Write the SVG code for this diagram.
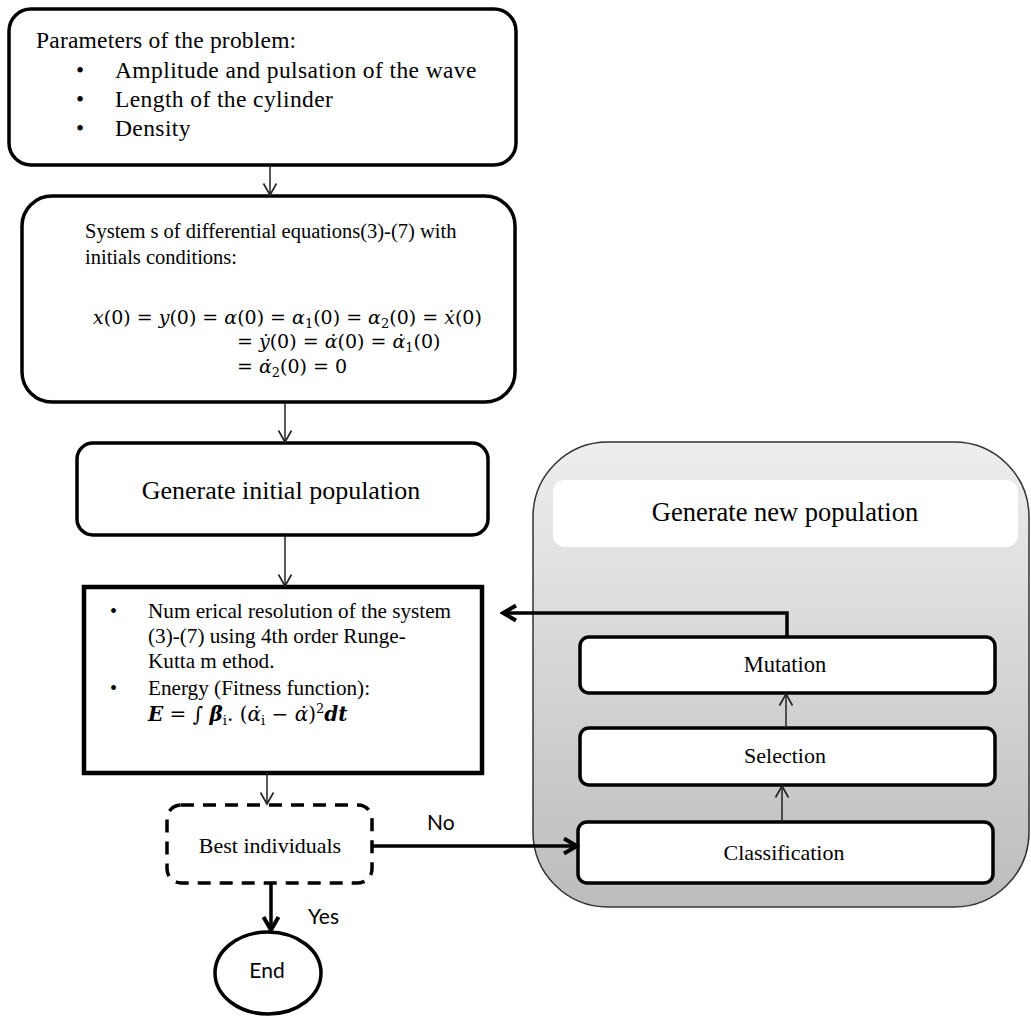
<svg xmlns="http://www.w3.org/2000/svg" width="1031" height="1019" viewBox="0 0 1031 1019">
<style>
text{font-family:"Liberation Serif","Times New Roman",serif;fill:#000}
.box{fill:#fff;stroke:#000;stroke-width:3.5}
.inner{fill:#fff;stroke:#000;stroke-width:3.5}
.thin{stroke:#222;stroke-width:1.5;fill:none}
.bold{stroke:#000;stroke-width:3.5;fill:none}
.c{text-anchor:middle}
.sans{font-family:Lato,"Liberation Sans",sans-serif}
.eq{font-family:"DejaVu Serif","Liberation Serif",serif}
.v{font-style:italic}
.bi{font-style:italic;font-weight:bold}
</style>
<defs>
<marker id="ah" viewBox="0 0 16 16" refX="14" refY="8" markerWidth="16" markerHeight="16" markerUnits="userSpaceOnUse" orient="auto">
<path d="M2.5,1.5 L14,8 L2.5,14.5" fill="none" stroke="#222" stroke-width="1.6"/>
</marker>
<marker id="ahb" viewBox="0 0 20 20" refX="17" refY="10" markerWidth="20" markerHeight="20" markerUnits="userSpaceOnUse" orient="auto">
<path d="M4,2.5 L17,10 L4,17.5" fill="none" stroke="#000" stroke-width="4" stroke-linejoin="miter"/>
</marker>
<linearGradient id="gg" x1="0" y1="0" x2="0" y2="1">
<stop offset="0" stop-color="#eeeeee"/>
<stop offset="1" stop-color="#bcbcbc"/>
</linearGradient>
</defs>

<g id="params">
<rect class="box" x="9" y="9" width="507" height="156" rx="22"/>
<text x="36" y="48" font-size="23.5" letter-spacing="0.2">Parameters of the problem:</text>
<text x="76" y="78" font-size="23">•</text>
<text x="115" y="78" font-size="23.5" letter-spacing="0.4">Amplitude and pulsation of the wave</text>
<text x="76" y="107" font-size="23">•</text>
<text x="115" y="107" font-size="23.5" letter-spacing="0.4">Length of the cylinder</text>
<text x="76" y="136" font-size="23">•</text>
<text x="115" y="136" font-size="23.5" letter-spacing="0.4">Density</text>
</g>

<g id="system">
<rect class="box" x="22" y="196" width="493" height="206" rx="30"/>
<text x="85" y="238" font-size="20.5">System s of differential equations(3)-(7) with</text>
<text x="85" y="264" font-size="20.5">initials conditions:</text>
<text class="eq" x="93" y="324" font-size="19" xml:space="preserve"><tspan class="v">x</tspan>(0) = <tspan class="v">y</tspan>(0) = <tspan class="v">α</tspan>(0) = <tspan class="v">α</tspan><tspan font-size="13" dy="4">1</tspan><tspan dy="-4">(0) = </tspan><tspan class="v">α</tspan><tspan font-size="13" dy="4">2</tspan><tspan dy="-4">(0) = </tspan><tspan class="v">ẋ</tspan>(0)</text>
<text class="eq" x="237" y="348" font-size="19" xml:space="preserve">= <tspan class="v">ẏ</tspan>(0) = <tspan class="v">α̇</tspan>(0) = <tspan class="v">α̇</tspan><tspan font-size="13" dy="4">1</tspan><tspan dy="-4">(0)</tspan></text>
<text class="eq" x="237" y="373" font-size="19" xml:space="preserve">= <tspan class="v">α̇</tspan><tspan font-size="13" dy="4">2</tspan><tspan dy="-4">(0) = 0</tspan></text>
</g>

<g id="initial">
<rect class="box" x="77" y="443" width="411" height="92" rx="16"/>
<text class="c" x="281" y="499" font-size="26">Generate initial population</text>
</g>

<g id="numerical">
<rect x="84" y="587" width="398" height="186" fill="#fff" stroke="#000" stroke-width="4.5"/>
<text x="110" y="618" font-size="20">•</text>
<text x="148" y="618" font-size="21.2">Num erical resolution of the system</text>
<text x="148" y="643" font-size="21.2">(3)-(7)  using 4th order Runge-</text>
<text x="148" y="668" font-size="21.2">Kutta m ethod.</text>
<text x="110" y="695" font-size="20">•</text>
<text x="148" y="695" font-size="21.2">Energy  (Fitness function):</text>
<text class="eq" x="148" y="721" font-size="20" xml:space="preserve"><tspan class="bi">E</tspan> = ∫ <tspan class="bi">β</tspan><tspan font-size="13" dy="4">i</tspan><tspan dy="-4">. (</tspan><tspan class="v">α̇</tspan><tspan font-size="13" dy="4">i</tspan><tspan dy="-4"> − </tspan><tspan class="v">α̇</tspan>)<tspan font-size="13" dy="-8">2</tspan><tspan class="bi" dy="8">dt</tspan></text>
</g>

<g id="best">
<rect x="167" y="805" width="205" height="78" rx="14" fill="#fff" stroke="#000" stroke-width="3.5" stroke-dasharray="13 9"/>
<text class="c" x="270" y="853" font-size="22">Best individuals</text>
</g>

<g id="end">
<ellipse cx="268" cy="973" rx="53" ry="41" fill="#fff" stroke="#000" stroke-width="3.5"/>
<text class="c sans" x="267" y="978" font-size="21">End</text>
</g>

<g id="newpop">
<rect x="533" y="442" width="496" height="465" rx="75" fill="url(#gg)" stroke="#333" stroke-width="1.5"/>
<rect x="553" y="480" width="465" height="67" rx="12" fill="#fff"/>
<text class="c" x="785" y="521" font-size="26.5">Generate new population</text>
</g>

<g id="mutation">
<rect class="inner" x="580" y="637" width="415" height="56" rx="9"/>
<text class="c" x="785" y="672" font-size="22.5">Mutation</text>
</g>

<g id="selection">
<rect class="inner" x="580" y="728" width="415" height="57" rx="9"/>
<text class="c" x="785" y="763" font-size="22">Selection</text>
</g>

<g id="classification">
<rect class="inner" x="578" y="822" width="415" height="61" rx="9"/>
<text class="c" x="784" y="860" font-size="22">Classification</text>
</g>

<g id="connectors">
<line class="thin" x1="270" y1="165" x2="270" y2="195" marker-end="url(#ah)"/>
<line class="thin" x1="285" y1="402" x2="285" y2="442" marker-end="url(#ah)"/>
<line class="thin" x1="285" y1="535" x2="285" y2="586" marker-end="url(#ah)"/>
<line class="thin" x1="267" y1="773" x2="267" y2="804" stroke="#555" marker-end="url(#ah)"/>
<line class="bold" x1="271" y1="883" x2="271" y2="930" marker-end="url(#ahb)"/>
<line class="bold" x1="372" y1="846" x2="577" y2="846" marker-end="url(#ahb)"/>
<path class="bold" d="M787,637 V613 H503" marker-end="url(#ahb)"/>
<line class="thin" x1="782" y1="822" x2="782" y2="786" marker-end="url(#ah)"/>
<line class="thin" x1="786" y1="728" x2="786" y2="694" marker-end="url(#ah)"/>
<text class="sans" x="427" y="830" font-size="21">No</text>
<text class="sans" x="308" y="924" font-size="21">Yes</text>
</g>
</svg>
